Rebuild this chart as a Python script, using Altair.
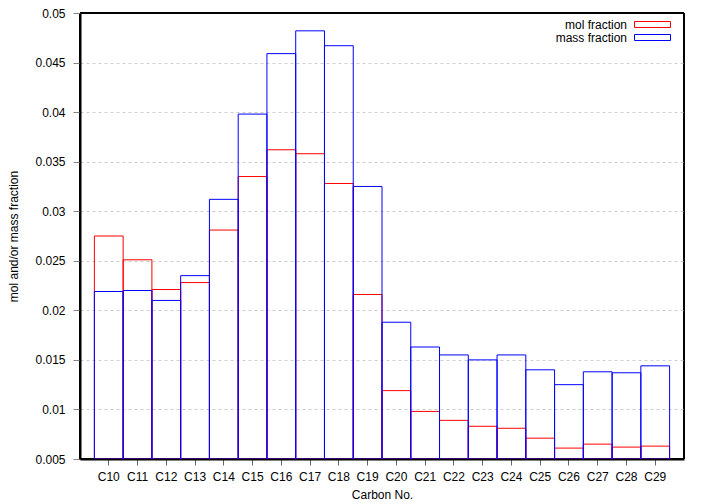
import altair as alt
import pandas as pd

carbons = ["C10", "C11", "C12", "C13", "C14", "C15", "C16", "C17", "C18", "C19",
           "C20", "C21", "C22", "C23", "C24", "C25", "C26", "C27", "C28", "C29"]
mol_fraction = [0.0275, 0.0251, 0.0221, 0.0228, 0.0281, 0.0335, 0.0362, 0.0358, 0.0328, 0.0216,
                0.0119, 0.0098, 0.0089, 0.0083, 0.0081, 0.0071, 0.0061, 0.0065, 0.0062, 0.0063]
mass_fraction = [0.0219, 0.0220, 0.0210, 0.0235, 0.0312, 0.0398, 0.0459, 0.0482, 0.0467, 0.0325,
                 0.0188, 0.0163, 0.0155, 0.0150, 0.0155, 0.0140, 0.0125, 0.0138, 0.0137, 0.0144]
series_names = ["mol fraction", "mass fraction"]
series_colors = ["#ff0000", "#0000ff"]
y_ticks = [0.005, 0.01, 0.015, 0.02, 0.025, 0.03, 0.035, 0.04, 0.045, 0.05]

rows = []
for name, vals in zip(series_names, [mol_fraction, mass_fraction]):
    for c, v in zip(carbons, vals):
        rows.append({"carbon": c, "value": v, "series": name})
df = pd.DataFrame(rows)

FONT = "Liberation Sans"

chart = alt.Chart(df).mark_bar(filled=False, strokeWidth=1, opacity=1, clip=True).encode(
    x=alt.X("carbon:N", sort=carbons,
            scale=alt.Scale(paddingInner=0, paddingOuter=0.5),
            axis=alt.Axis(title="Carbon No.", labelAngle=0, domain=True, domainColor="#000000",
                          domainWidth=2, grid=False,
                          tickSize=6, tickColor="#666666", labelPadding=6,
                          labelFont=FONT, labelFontSize=12, labelColor="#000000",
                          titleFont=FONT, titleFontSize=12, titleFontWeight="normal",
                          titleColor="#000000", titleY=39, titleBaseline="alphabetic")),
    y=alt.Y("value:Q", stack=None,
            scale=alt.Scale(domain=[0.005, 0.05], zero=False, nice=False),
            axis=alt.Axis(title="mol and/or mass fraction", values=y_ticks, format="~g",
                          domain=True, domainColor="#000000", domainWidth=2,
                          tickSize=7, tickColor="#888888", labelPadding=8,
                          grid=True,
                          gridColor=alt.condition("datum.value >= 0.0499 || datum.value <= 0.0051",
                                                  alt.value("transparent"), alt.value("#cccccc")),
                          gridDash=[3, 3], gridWidth=1,
                          labelFont=FONT, labelFontSize=12, labelColor="#000000",
                          titleFont=FONT, titleFontSize=12, titleFontWeight="normal",
                          titleColor="#000000", titleX=-67, titleBaseline="middle")),
    color=alt.Color("series:N", sort=series_names,
                    scale=alt.Scale(domain=series_names, range=series_colors),
                    legend=alt.Legend(title=None, orient="none", legendX=566, legendY=5,
                                      padding=0, rowPadding=0,
                                      symbolType="M-3,-0.5H3V0.5H-3Z", symbolSize=144,
                                      symbolStrokeWidth=1, symbolFillColor="transparent",
                                      labelAlign="right", labelOffset={"expr": "-32"},
                                      labelFont=FONT, labelFontSize=12, labelColor="#000000")),
    order=alt.Order("series_order:Q"),
).transform_calculate(
    series_order="datum.series == 'mol fraction' ? 0 : 1"
).properties(
    width=604, height=446,
    autosize=alt.AutoSizeParams(type="none"),
    padding={"left": 72, "top": 5, "right": 13, "bottom": 41},
).configure_view(
    stroke="#000000", strokeWidth=2, strokeDash=[1, 0], strokeOpacity=1
)

chart.save("out.html", embed_options={"renderer": "svg", "actions": False})
